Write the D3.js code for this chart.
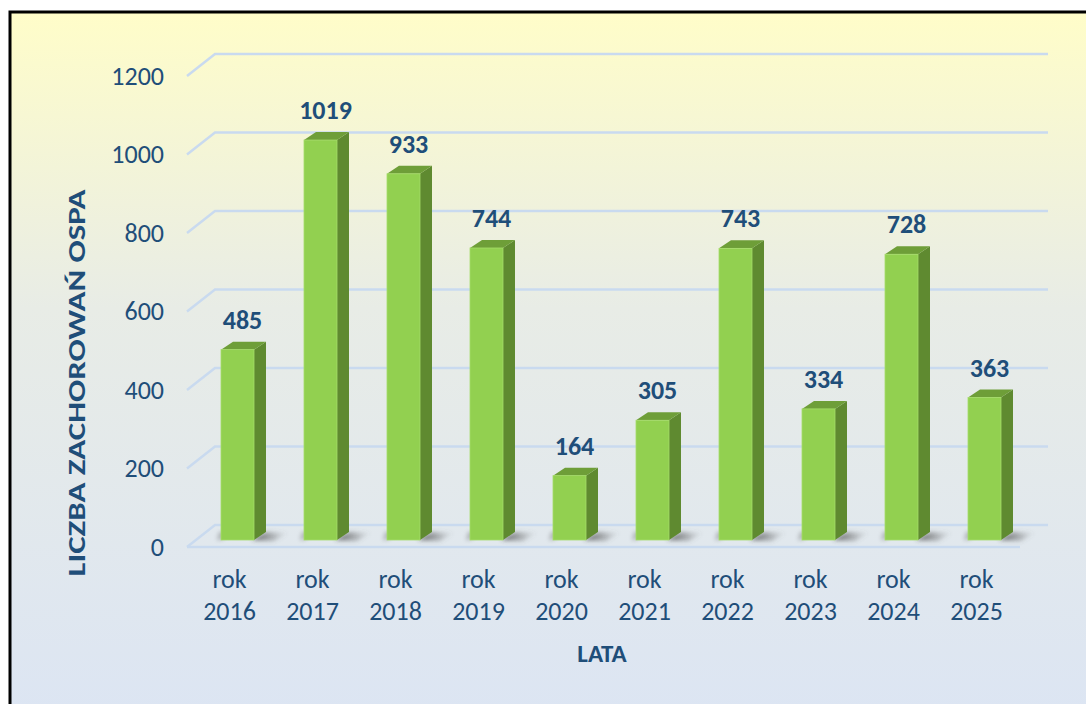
<!DOCTYPE html>
<html><head><meta charset="utf-8">
<script src="https://cdn.jsdelivr.net/npm/d3@7"></script>
<style>html,body{margin:0;padding:0;background:#fff;}svg{display:block;}</style>
</head><body>
<script>
const categories = ["rok 2016","rok 2017","rok 2018","rok 2019","rok 2020","rok 2021","rok 2022","rok 2023","rok 2024","rok 2025"];
const values = [485,1019,933,744,164,305,743,334,728,363];
const yTicks = [0,200,400,600,800,1000,1200];
const yTitle = "LICZBA ZACHOROWAŃ OSPA";
const xTitle = "LATA";

const W = 1086, H = 704;
const FONT = "Carlito, Lato, 'Open Sans', sans-serif";
const textColor = "#1F4E79";
const svg = d3.select("body").append("svg").attr("width", W).attr("height", H);
const defs = svg.append("defs");
const bg = defs.append("linearGradient").attr("id","bg").attr("x1",0).attr("y1",0).attr("x2",0).attr("y2",1);
bg.append("stop").attr("offset","0").attr("stop-color","#FFFDC9");
bg.append("stop").attr("offset","0.42").attr("stop-color","#E8ECE6");
bg.append("stop").attr("offset","1").attr("stop-color","#DCE5F3");
const blur = defs.append("filter").attr("id","blur").attr("x","-50%").attr("y","-100%").attr("width","200%").attr("height","300%");
blur.append("feGaussianBlur").attr("stdDeviation",2.2);
const sh = defs.append("linearGradient").attr("id","sh").attr("x1",0).attr("y1",0).attr("x2",1).attr("y2",0);
sh.append("stop").attr("offset","0").attr("stop-color","#3a3a3a").attr("stop-opacity",0.85);
sh.append("stop").attr("offset","1").attr("stop-color","#6a6a6a").attr("stop-opacity",0);

svg.append("rect").attr("x",10).attr("y",12).attr("width",W).attr("height",H).attr("fill","url(#bg)").attr("stroke","#000").attr("stroke-width",3);

// 3D geometry
const wallDx = 28, wallDy = -22;      // back wall offset
const barOffX = 9, barOffY = -7;      // bar front face offset from front plane
const depthX = 12, depthY = -8;       // bar depth

const x = d3.scaleBand().domain(categories).range([187, 1017]);
const y = d3.scaleLinear().domain([0,1200]).range([547, 76]);
const barW = 33;

const grid = svg.append("g").attr("stroke","#C9DAEF").attr("stroke-width",2.5).attr("fill","none");
yTicks.forEach(t => {
  const yy = y(t);
  if (t === 0) {
    grid.append("path").attr("d", `M${x.range()[0]},${yy}L${x.range()[1]+3},${yy}`);
  }
  grid.append("path").attr("d", `M${x.range()[0]},${yy}L${x.range()[0]+wallDx},${yy+wallDy}L${x.range()[1]+wallDx+3},${yy+wallDy}`);
});

// y tick labels
svg.append("g").selectAll("text").data(yTicks).join("text")
  .attr("x", 164).attr("y", d => y(d)).attr("dy","0.34em")
  .attr("text-anchor","end").attr("font-family",FONT).attr("font-size",26)
  .attr("fill",textColor).text(d => d);

// bars
const bars = svg.append("g");
categories.forEach((c,i) => {
  const v = values[i];
  const cx = x(c) + x.bandwidth()/2 + barOffX;
  const x0 = cx - barW/2, x1 = cx + barW/2;
  const yb = y(0) + barOffY, yt = y(v) + barOffY;
  bars.append("path")
    .attr("d", `M${x1-2},${yb}L${x1+depthX},${yb+depthY}L${x1+depthX+22},${yb+depthY+1}L${x1+20},${yb+1}Z`)
    .attr("fill","url(#sh)").attr("filter","url(#blur)");
  bars.append("path")
    .attr("d", `M${x0-4},${yb}L${x0+depthX-14},${yb+depthY}L${x0+depthX},${yb+depthY}L${x0},${yb}Z`)
    .attr("fill","#555").attr("opacity",0.35).attr("filter","url(#blur)");
  bars.append("path")
    .attr("d", `M${x1},${yb}L${x1+depthX},${yb+depthY}L${x1+depthX},${yt+depthY}L${x1},${yt}Z`)
    .attr("fill","#5F8A30");
  bars.append("path")
    .attr("d", `M${x0},${yt}L${x0+depthX},${yt+depthY}L${x1+depthX},${yt+depthY}L${x1},${yt}Z`)
    .attr("fill","#6E9E38");
  bars.append("rect").attr("x",x0).attr("y",yt).attr("width",barW).attr("height",yb-yt)
    .attr("fill","#92D050").attr("stroke","#A6DC6A").attr("stroke-width",0.8);
  bars.append("text").attr("x", cx + depthX/2 - 1).attr("y", yt + depthY - 13)
    .attr("text-anchor","middle").attr("font-family",FONT).attr("font-weight","bold")
    .attr("font-size",26).attr("fill",textColor).text(v);
});

// category labels
const cl = svg.append("g");
categories.forEach(c => {
  const parts = c.split(" ");
  const cx = x(c) + x.bandwidth()/2 + 1;
  const t = cl.append("text").attr("text-anchor","middle").attr("font-family",FONT)
    .attr("font-size",26).attr("fill",textColor);
  t.append("tspan").attr("x",cx).attr("y",588).text(parts[0]);
  t.append("tspan").attr("x",cx).attr("y",620).text(parts[1]);
});

// axis titles
svg.append("text").attr("x",602).attr("y",662).attr("text-anchor","middle")
  .attr("font-family",FONT).attr("font-weight","bold").attr("font-size",25)
  .attr("fill",textColor).text(xTitle);
svg.append("text").attr("transform","translate(85,383) rotate(-90)")
  .attr("text-anchor","middle").attr("font-family",FONT).attr("font-weight","bold")
  .attr("font-size",24).attr("fill",textColor)
  .attr("textLength",387).attr("lengthAdjust","spacingAndGlyphs").text(yTitle);
</script>
</body></html>
